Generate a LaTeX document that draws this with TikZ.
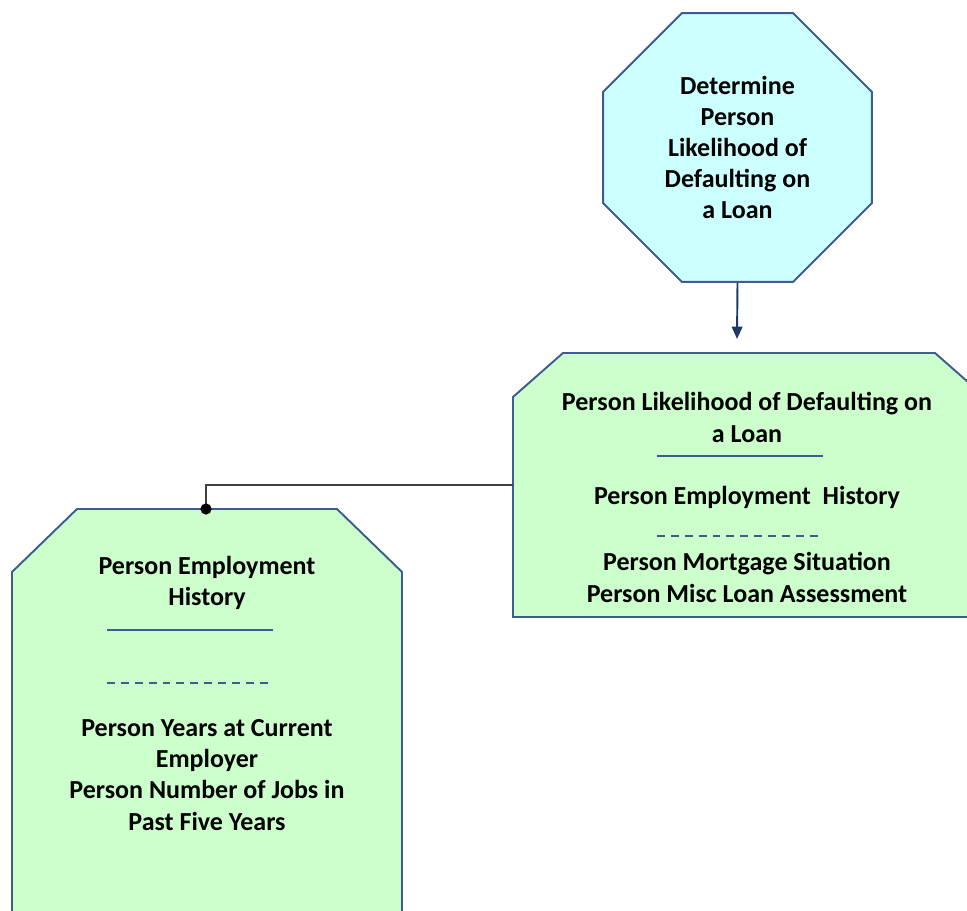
\documentclass[tikz,border=0pt]{standalone}
\usepackage{fontspec}
\setmainfont{Carlito}
\usetikzlibrary{shapes.geometric,arrows.meta,positioning}

\definecolor{octFill}{RGB}{204,255,255}
\definecolor{boxFill}{RGB}{204,255,204}
\definecolor{edgeBlue}{RGB}{62,92,140}
\definecolor{arrowNavy}{RGB}{31,56,100}

\begin{document}
\begin{tikzpicture}[x=0.02cm,y=-0.02cm,
        outline/.style={draw=edgeBlue,line width=1.1pt},
        boxText/.style={font=\bfseries\fontsize{14.8}{17.7}\selectfont,align=center,inner sep=0pt},
        sepLine/.style={draw=edgeBlue,line width=1pt},
        link/.style={draw=black!75,line width=1.1pt}]
        \useasboundingbox (0,0) rectangle (967,911);
        \clip (0,0) rectangle (967,911);

        % top goal
        \node[regular polygon, regular polygon sides=8, minimum size=5.82cm,
              fill=octFill, outline, boxText] (goal) at (737.5,147.5)
              {Determine\\Person\\Likelihood of\\Defaulting on\\a Loan};
        \coordinate (arrowTip) at (737,339);
        \draw[-{Triangle[length=7pt,width=6pt]}, arrowNavy, line width=1.1pt] (goal.south) -- (arrowTip);

        % loan entity
        \draw[outline, fill=boxFill] (513,397) -- (563,353) -- (935,353) -- (985,397)
              -- (985,617) -- (513,617) -- cycle;
        \coordinate (loanWest) at (513,485);
        \node[boxText] (loanTitle) at (747,417.5) {Person Likelihood of Defaulting on\\a Loan};
        \draw[sepLine] (657,456) -- (823,456);
        \node[boxText] (loanKey) at (747,497) {Person Employment\ \ History};
        \draw[sepLine, dash pattern=on 4.5pt off 3.4pt] (657,536) -- (823,536);
        \node[boxText] (loanAttrs) at (747,577.5) {Person Mortgage Situation\\Person Misc Loan Assessment};

        % employment entity
        \draw[outline, fill=boxFill] (12,572) -- (77,509) -- (337,509) -- (402,572)
              -- (402,930) -- (12,930) -- cycle;
        \coordinate (historyTop) at (206,509);
        \node[boxText] (historyTitle) at (207,582.5) {Person Employment\\History};
        \draw[sepLine] (107,630) -- (273,630);
        \draw[sepLine, dash pattern=on 4.5pt off 3.4pt] (107,683) -- (273,683);
        \node[boxText] (historyAttrs) at (207,775)
              {Person Years at Current\\Employer\\Person Number of Jobs in\\Past Five Years};

        % relationship
        \draw[link] (loanWest) -| (historyTop);
        \fill (historyTop) circle (3.2pt);
\end{tikzpicture}
\end{document}
